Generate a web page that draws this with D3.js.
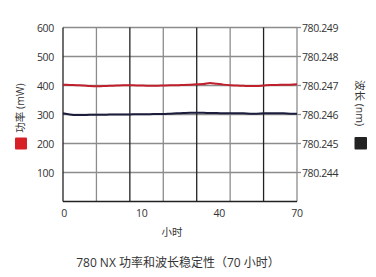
<!DOCTYPE html>
<html><head><meta charset="utf-8">
<script src="https://cdn.jsdelivr.net/npm/d3@7"></script>
<style>
html,body{margin:0;padding:0;background:#fff;}
svg{display:block;}
text{font-family:"Open Sans","Noto Sans CJK SC",sans-serif;fill:#333;}
</style></head><body>
<script>
// ---- data ----
const hours = [0,2,4,6,8,10,12,14,16,18,20,22,24,26,28,30,32,34,36,38,40,42,44,46,48,50,52,54,56,58,60,62,64,66,68,70];
const powerMW = [403,402,401,400,398,397,398,399,400,401,401,400,400,399,399,400,401,401,402,403,404,405,409,406,403,401,400,399,398,398,400,402,402,403,403,404];
const wavelengthNM = [780.24604,780.24600,780.24598,780.24598,780.24599,780.24599,780.24599,780.24600,780.24600,780.24600,780.24600,780.24601,780.24601,780.24601,780.24602,780.24602,780.24603,780.24604,780.24605,780.24606,780.24606,780.24606,780.24605,780.24605,780.24604,780.24604,780.24604,780.24604,780.24603,780.24603,780.24604,780.24604,780.24604,780.24604,780.24603,780.24603];
const leftTicks = [100,200,300,400,500,600];
const rightTicks = [780.244,780.245,780.246,780.247,780.248,780.249];
const xGrid = [10,20,30,40,50,60];
const xTickLabels = ["0","10","40","70"];
const leftTitle = "功率 (mW)";
const rightTitle = "波长 (nm)";
const xTitle = "小时";
const chartTitle = "780 NX 功率和波长稳定性（70 小时）";

const W = 376, H = 277;
const L = 63, R = 297, T = 27.5, B = 201.5;
const svg = d3.select("body").append("svg").attr("width", W).attr("height", H);

const x = d3.scaleLinear().domain([0,70]).range([L,R]);
const yL = d3.scaleLinear().domain([0,600]).range([B,T]);
const yR = d3.scaleLinear().domain([780.243,780.249]).range([B,T]);
const xLab = d3.scalePoint().domain(xTickLabels).range([L+1,R]);

const grid = svg.append("g");
// horizontal gridlines
grid.selectAll("line.h").data(leftTicks).enter().append("line")
  .attr("x1", L).attr("x2", R).attr("y1", d=>yL(d)).attr("y2", d=>yL(d))
  .attr("stroke", "#8c8c8c").attr("stroke-width", 1.3);
// vertical gridlines
grid.selectAll("line.v").data(xGrid).enter().append("line")
  .attr("x1", d=>x(d)).attr("x2", d=>x(d)).attr("y1", T).attr("y2", B)
  .attr("stroke", (d,i)=> i%2===1 ? "#222" : "#8c8c8c").attr("stroke-width", 1.3);
// right axis
grid.append("line").attr("x1", R).attr("x2", R).attr("y1", T).attr("y2", B)
  .attr("stroke", "#8c8c8c").attr("stroke-width", 1.3);
grid.selectAll("line.rt").data(rightTicks).enter().append("line")
  .attr("x1", R).attr("x2", R+4).attr("y1", d=>yR(d)).attr("y2", d=>yR(d))
  .attr("stroke", "#8c8c8c").attr("stroke-width", 1.3);
// left & bottom axes
grid.append("line").attr("x1", L).attr("x2", L).attr("y1", T).attr("y2", B)
  .attr("stroke", "#222").attr("stroke-width", 1.3);
grid.append("line").attr("x1", L).attr("x2", R).attr("y1", B).attr("y2", B)
  .attr("stroke", "#222").attr("stroke-width", 1.3);

// lines
const lineP = d3.line().x((d,i)=>x(hours[i])).y(d=>yL(d)).curve(d3.curveMonotoneX);
const lineW = d3.line().x((d,i)=>x(hours[i])).y(d=>yR(d)).curve(d3.curveMonotoneX);
svg.append("path").attr("d", lineW(wavelengthNM)).attr("fill","none")
  .attr("stroke","#1c1c3c").attr("stroke-width",2);
svg.append("path").attr("d", lineP(powerMW)).attr("fill","none")
  .attr("stroke","#c01f2c").attr("stroke-width",2);

// tick labels
const fs = 10.5;
svg.selectAll("text.l").data([...leftTicks]).enter().append("text")
  .attr("x", 54).attr("y", d=>yL(d)+4).attr("text-anchor","end")
  .attr("font-size", fs).attr("letter-spacing", -0.3).text(d=>d);
svg.selectAll("text.r").data(rightTicks).enter().append("text")
  .attr("x", 302).attr("y", d=>yR(d)+4).attr("text-anchor","start")
  .attr("font-size", fs).attr("letter-spacing", -0.4).text(d=>d3.format(".3f")(d));
svg.selectAll("text.x").data(xTickLabels).enter().append("text")
  .attr("x", d=>xLab(d)).attr("y", 217).attr("text-anchor","middle")
  .attr("font-size", fs).attr("letter-spacing", -0.3).text(d=>d);

// axis titles
svg.append("text").attr("transform","translate(24,108) rotate(-90)")
  .attr("text-anchor","middle").attr("font-size",10.5).text(leftTitle);
svg.append("text").attr("transform","translate(356,103) rotate(90)")
  .attr("text-anchor","middle").attr("font-size",10.5).text(rightTitle);
svg.append("text").attr("x",172).attr("y",236).attr("text-anchor","middle")
  .attr("font-size",10.5).text(xTitle);
svg.append("text").attr("x",178).attr("y",267).attr("text-anchor","middle")
  .attr("font-size",12).text(chartTitle);

// legend squares
svg.append("rect").attr("x",15).attr("y",137.5).attr("width",12).attr("height",12)
  .attr("rx",1).attr("fill","#d71f26");
svg.append("rect").attr("x",354.5).attr("y",137).attr("width",12.5).attr("height",12.5)
  .attr("rx",1).attr("fill","#222");
</script>
</body></html>
